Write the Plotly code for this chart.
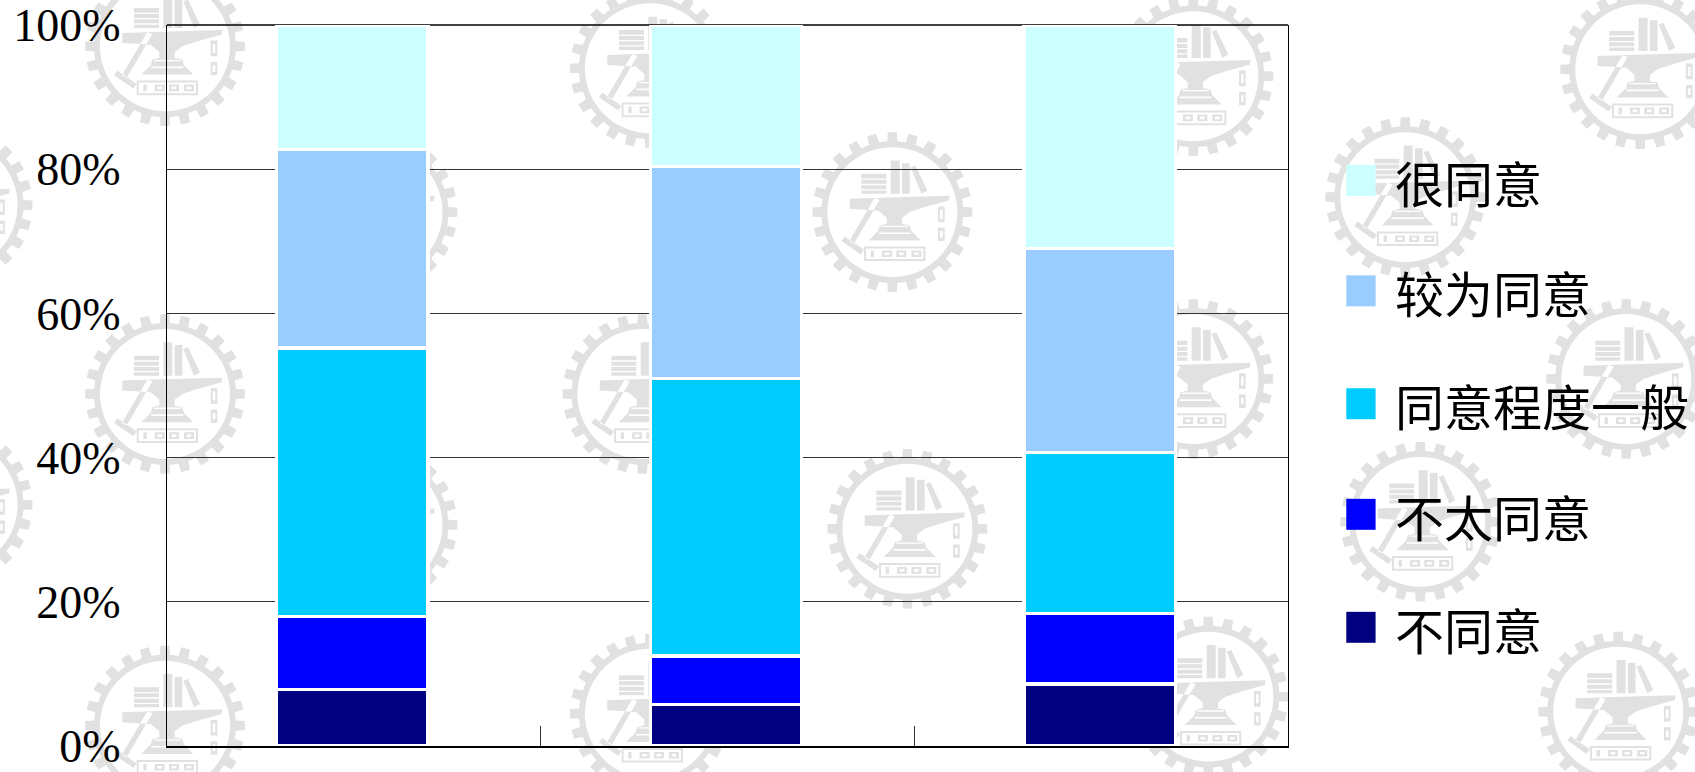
import math
import plotly.graph_objects as go

# ---- data ----
categories = ["第一组", "第二组", "第三组"]
series_names = ["不同意", "不太同意", "同意程度一般", "较为同意", "很同意"]
series_colors = ["#000080", "#0000FF", "#00CCFF", "#99CCFF", "#CCFFFF"]
v_disagree = [7.8, 5.8, 8.6]
v_slightly = [10.2, 6.7, 9.8]
v_neutral = [37.2, 38.5, 22.3]
v_agree = [27.5, 29.4, 28.3]
v_strong = [17.3, 19.6, 31.0]
series_values = [v_disagree, v_slightly, v_neutral, v_agree, v_strong]
y_ticks = [0, 20, 40, 60, 80, 100]
y_tick_labels = ["0%", "20%", "40%", "60%", "80%", "100%"]

# ---- page layout (pixels) ----
W, H = 1695, 772
L, R, T, B = 166.5, 1287.7, 24.7, 746.4
legend_top_down = [180.3, 290.8, 403.8, 514.5, 627.6]
logo_centers = [(164.5, 46), (164.5, 394), (164.5, 726), (649.5, 68), (642, 394), (649.5, 714),
                (892, 212), (907, 529), (377, 212), (377, 525), (-48, 205), (-48, 505),
                (1193, 76), (1193, 379), (1208, 697), (1640, 69), (1626, 379), (1618, 712),
                (1405, 197), (1420, 522)]


def px(x):
    return (x - L) / (R - L)


def py(y):
    return 1 - (y - T) / (B - T)


def rect(x0, y0, x1, y1):
    return [(x0, y0), (x1, y0), (x1, y1), (x0, y1)]


def hole(x0, y0, x1, y1):
    return [(x0, y0), (x0, y1), (x1, y1), (x1, y0)]


def z(poly):
    # logo artwork drawn on a 3x grid, centred at (333, 305)
    return [((a - 333) / 3, (b - 305) / 3) for a, b in poly]


def logo_polys():
    polys = []
    n = 24
    outer = []
    for i in range(n):
        a = 2 * math.pi * i / n
        d = 2 * math.pi / n
        for da, r in [(-0.5, 71), (-0.27, 71), (-0.22, 80), (0.22, 80), (0.27, 71)]:
            outer.append((r * math.cos(a + da * d), r * math.sin(a + da * d)))
    polys.append(outer)
    polys.append([(65 * math.cos(-2 * math.pi * i / 72), 65 * math.sin(-2 * math.pi * i / 72)) for i in range(72)])
    art = [
        [(205, 265), (295, 262), (505, 256), (503, 270), (430, 290), (385, 305), (362, 322), (362, 340),
         (385, 345), (390, 362), (418, 390), (262, 390), (290, 362), (295, 345), (316, 340), (316, 322),
         (290, 300), (205, 295)],
        hole(300, 346, 380, 350), hole(292, 366, 388, 371),
        [(280, 262), (295, 268), (218, 400), (204, 392)],
        [(190, 378), (248, 418), (238, 432), (180, 392)],
        rect(240, 190, 315, 250), hole(240, 204, 315, 208), hole(240, 220, 315, 224), hole(240, 236, 315, 240),
        rect(328, 150, 355, 250), rect(362, 158, 385, 250),
        [(388, 170), (402, 165), (438, 240), (420, 250)],
        rect(470, 288, 490, 335), hole(476, 298, 484, 325),
        rect(470, 352, 490, 392), hole(476, 362, 484, 382),
        rect(248, 408, 432, 452), hole(254, 414, 426, 446),
        rect(268, 420, 278, 440),
        rect(302, 420, 332, 440), hole(310, 426, 324, 434),
        rect(345, 420, 375, 440), hole(353, 426, 367, 434),
        rect(390, 420, 420, 440), hole(398, 426, 412, 434),
    ]
    polys.extend(z(p) for p in art)
    return polys


LOGO = logo_polys()


def logo_path(cx, cy):
    parts = []
    for poly in LOGO:
        pts = [f"{px(cx + a):.5f},{py(cy + b):.5f}" for a, b in poly]
        parts.append("M" + "L".join(pts) + "Z")
    return "".join(parts)


shapes = [dict(type="path", path=logo_path(cx, cy), xref="paper", yref="paper", layer="below",
               fillcolor="#e1e1e1", line=dict(width=0)) for cx, cy in logo_centers]
# top border, passes behind the white outline of the bars
shapes.append(dict(type="line", xref="paper", yref="paper", x0=0, x1=1, y0=1, y1=1, layer="below",
                   line=dict(color="#000000", width=1.3)))

annotations = []
names_top_down = list(reversed(series_names))
colors_top_down = list(reversed(series_colors))
for name, color, yc in zip(names_top_down, colors_top_down, legend_top_down):
    shapes.append(dict(type="rect", xref="paper", yref="paper", layer="above",
                       x0=px(1346), x1=px(1375.3), y0=py(yc - 15.5), y1=py(yc + 15.5),
                       fillcolor=color, line=dict(width=0)))
    annotations.append(dict(text=name, xref="paper", yref="paper", x=px(1393), y=py(yc + 1),
                            xanchor="left", yanchor="middle", showarrow=False,
                            font=dict(family="Noto Sans CJK SC", size=49, color="#000000")))

fig = go.Figure()
for name, color, values in zip(series_names, series_colors, series_values):
    fig.add_trace(go.Bar(x=categories, y=values, name=name, width=0.405, offset=-0.2065,
                         marker=dict(color=color, line=dict(color="#FFFFFF", width=3.3)),
                         cliponaxis=False, showlegend=False))

fig.update_layout(
    barmode="stack",
    width=W, height=H,
    margin=dict(l=L, r=W - R, t=T, b=H - B, pad=0, autoexpand=False),
    paper_bgcolor="#FFFFFF", plot_bgcolor="#FFFFFF",
    shapes=shapes, annotations=annotations,
    showlegend=False,
    font=dict(family="Liberation Serif", color="#000000"),
    xaxis=dict(type="category", showticklabels=False, tickson="boundaries", ticks="inside", ticklen=20,
               tickwidth=1, tickcolor="#333333", showgrid=False, showline=True, linecolor="#000000",
               linewidth=1.5, mirror=False, zeroline=False),
    yaxis=dict(range=[0, 100], tickmode="array", tickvals=y_ticks, ticktext=y_tick_labels,
               ticks="inside", ticklen=18, ticklabeloverflow="allow",
               tickwidth=1, tickcolor="#333333", showgrid=True, gridcolor="#333333", gridwidth=1,
               showline=True, linecolor="#000000", linewidth=1.3, mirror=True, zeroline=False,
               ticklabelstandoff=36,
               tickfont=dict(family="Liberation Serif", size=46, color="#000000")),
)

fig.write_html("out.html", config={"displayModeBar": False},
               post_script="document.body.style.margin='0';document.body.style.overflow='hidden';")
